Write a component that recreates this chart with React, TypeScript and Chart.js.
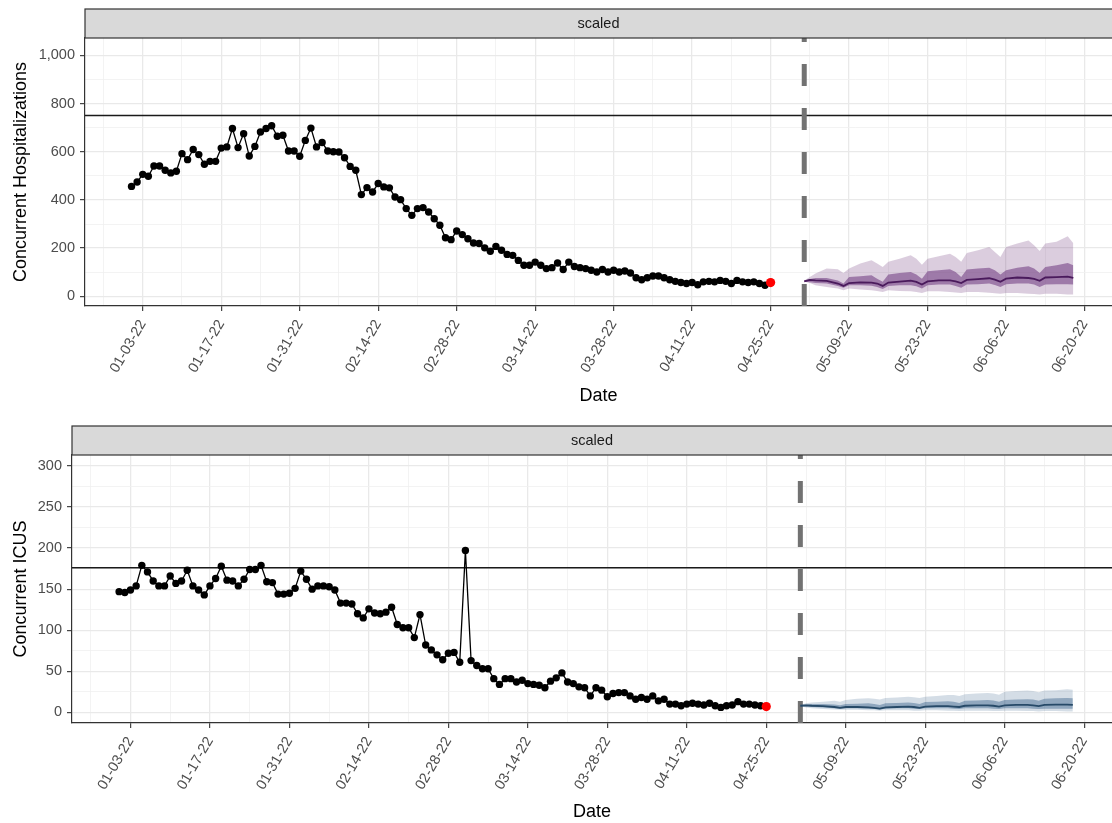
import React, { useEffect, useRef } from 'react';
import { Chart, registerables } from 'chart.js';

Chart.register(...registerables);

// ---------- data (days counted from 01-03-22) ----------
const FIRST_OBS_DAY = -2; // 01-01-22
const forecastStartDay = 118; // 05-01-22

const tickDays = [0, 14, 28, 42, 56, 70, 84, 98, 112, 126, 140, 154, 168];
const tickLabels = [
  '01-03-22', '01-17-22', '01-31-22', '02-14-22', '02-28-22', '03-14-22', '03-28-22',
  '04-11-22', '04-25-22', '05-09-22', '05-23-22', '06-06-22', '06-20-22',
];
const minorTickDays = [-7, 7, 21, 35, 49, 63, 77, 91, 105, 119, 133, 147, 161];

const hospObserved = [
  456, 474, 506, 498, 541, 541, 523, 512, 519, 592, 567, 609, 588, 548, 560, 560, 615, 620, 696, 617,
  675, 582, 622, 682, 696, 708, 664, 668, 603, 603, 581, 647, 698, 620, 638, 603, 600, 599, 575, 539,
  523, 422, 451, 433, 468, 454, 450, 412, 401, 364, 336, 364, 368, 350, 322, 295,
  243, 235, 271, 256, 239, 221, 219, 201, 187, 207, 191, 174, 170, 149, 129, 129, 142, 129, 115, 119,
  138, 111, 142, 124, 119, 115, 108, 101, 111, 101, 108, 101, 105, 97, 77, 69, 77, 84, 84, 77,
  69, 62, 57, 53, 57, 48, 60, 62, 60, 66, 62, 53, 66, 60, 57, 60, 53, 46, 57,
];

const icuObserved = [
  147, 146, 149, 154, 179, 171, 160, 154, 154, 166, 157, 160, 173, 154, 149, 143, 154, 163, 178, 161,
  160, 154, 162, 174, 174, 179, 159, 158, 144, 144, 145, 151, 172, 162, 150, 154, 154, 153, 149, 133,
  133, 132, 120, 115, 126, 121, 120, 122, 128, 107, 103, 103, 91, 119, 82, 76, 70,
  64, 72, 73, 61, 197, 63, 57, 53, 53, 41, 34, 41, 41, 37, 39, 35, 34, 33, 30, 38,
  42, 48, 37, 35, 31, 30, 20, 30, 27, 19, 23, 24, 24, 20, 16, 18, 16, 20, 14, 16,
  10, 10, 8, 10, 11, 10, 9, 11, 8, 6, 8, 9, 13, 10, 10, 9, 8, 7,
];

const forecastDays = [
  118, 119, 120, 122, 124, 125, 126, 128, 130, 131, 132, 133, 135, 137, 138, 139, 140, 142,
  144, 145, 146, 147, 149, 151, 152, 153, 154, 156, 158, 159, 160, 161, 163, 165, 166,
];

const hospMedian = [62, 68, 66, 64, 53, 43, 55, 58, 57, 53, 43, 57, 61, 65, 60, 49, 62, 66, 66, 62, 55, 68, 71, 75, 69, 60, 73, 78, 76, 72, 64, 78, 80, 82, 76];
const hospUpper50 = [66, 72, 76, 76, 66, 53, 80, 83, 87, 73, 60, 90, 97, 101, 90, 73, 104, 108, 112, 101, 80, 111, 115, 119, 108, 90, 108, 119, 125, 115, 97, 122, 129, 138, 129];
const hospLower50 = [60, 58, 55, 53, 43, 36, 46, 46, 44, 39, 30, 43, 46, 46, 42, 32, 46, 49, 49, 43, 36, 49, 50, 53, 47, 39, 50, 53, 53, 49, 39, 49, 50, 50, 49];
const hospUpper90 = [66, 80, 95, 115, 112, 97, 115, 136, 150, 136, 122, 143, 156, 170, 156, 131, 156, 166, 177, 163, 143, 180, 191, 205, 184, 163, 205, 219, 232, 212, 188, 219, 226, 249, 220];
const hospLower90 = [60, 55, 46, 39, 32, 25, 32, 28, 25, 22, 18, 25, 22, 21, 18, 14, 21, 21, 18, 16, 14, 18, 18, 15, 13, 11, 14, 14, 11, 10, 8, 11, 11, 8, 8];

const icuMedian = [8, 8.5, 8, 7.5, 6.5, 5.5, 6.5, 6.5, 6, 5.5, 4.5, 6, 6.5, 7, 6.5, 5.5, 7, 7.5, 7.5, 7, 6.5, 8, 8.5, 8.5, 8, 7, 8.5, 9, 9, 8.5, 7.5, 9, 9.5, 9.5, 9];
const icuUpper50 = [8.5, 9.5, 10, 10, 9.5, 8.5, 10, 10.5, 11, 10, 9, 11, 11.5, 12, 11.5, 10, 12.5, 13, 13.5, 13, 11.5, 14, 14.5, 15, 14.5, 13, 15, 15.5, 16, 15.5, 14, 16.5, 17, 17.5, 17];
const icuLower50 = [7.5, 7, 6.5, 6, 5, 4.5, 5, 5, 4.5, 4, 3.5, 4.5, 5, 5, 4.5, 4, 5, 5, 5, 4.5, 4, 5, 5, 5, 4.5, 4, 5, 5, 5, 4.5, 4, 4.5, 4.5, 4.5, 4.5];
const icuUpper90 = [9, 11, 12, 13, 14, 13, 15, 16.5, 17, 16.5, 15.5, 17.5, 18, 19, 18.5, 17.5, 19, 20, 21, 21, 20, 22, 23, 23.5, 23, 21.5, 25, 26, 26.5, 26, 24.5, 26.5, 27, 28, 27.5];
const icuLower90 = [7.5, 6, 5, 4, 3.5, 3, 3, 3, 2.5, 2.5, 2, 2.5, 2.5, 2.5, 2, 2, 2.5, 2.5, 2, 2, 1.5, 2, 2, 2, 1.5, 1.5, 2, 2, 1.5, 1.5, 1, 1.5, 1.5, 1, 1];

const hospCapacity = 750;
const icuCapacity = 176;

const hospYMajor = [0, 200, 400, 600, 800, 1000];
const hospYMinor = [100, 300, 500, 700, 900];
const icuYMajor = [0, 50, 100, 150, 200, 250, 300];
const icuYMinor = [25, 75, 125, 175, 225, 275];

const stripLabel = 'scaled';

// ---------- styling ----------
const FONT = "'Liberation Sans', Arial, Helvetica, sans-serif";
const X_MIN = -10.3;
const X_MAX = 172.9;

interface PanelCfg {
  observed: number[];
  median: number[];
  lo50: number[];
  hi50: number[];
  lo90: number[];
  hi90: number[];
  capacity: number;
  yMajor: number[];
  yMinor: number[];
  yMin: number;
  yMax: number;
  yTitle: string;
  rgb: string;
  medianColor: string;
  a90: number;
  a50: number;
  yAxisWidth: number;
  xAxisHeight: number;
  topPad: number;
  xTitlePad: number;
  height: number;
}

const hospPanel: PanelCfg = {
  observed: hospObserved,
  median: hospMedian,
  lo50: hospLower50,
  hi50: hospUpper50,
  lo90: hospLower90,
  hi90: hospUpper90,
  capacity: hospCapacity,
  yMajor: hospYMajor,
  yMinor: hospYMinor,
  yMin: -40.2,
  yMax: 1071.8,
  yTitle: 'Concurrent Hospitalizations',
  rgb: '110, 55, 125',
  medianColor: '#4a1a5c',
  a90: 0.25,
  a50: 0.55,
  yAxisWidth: 85,
  xAxisHeight: 105,
  topPad: 38,
  xTitlePad: 4,
  height: 411,
};

const icuPanel: PanelCfg = {
  observed: icuObserved,
  median: icuMedian,
  lo50: icuLower50,
  hi50: icuUpper50,
  lo90: icuLower90,
  hi90: icuUpper90,
  capacity: icuCapacity,
  yMajor: icuYMajor,
  yMinor: icuYMinor,
  yMin: -13,
  yMax: 313.4,
  yTitle: 'Concurrent ICUS',
  rgb: '60, 100, 140',
  medianColor: '#274a68',
  a90: 0.22,
  a50: 0.45,
  yAxisWidth: 72,
  xAxisHeight: 100,
  topPad: 44,
  xTitlePad: 0,
  height: 412,
};

function fmtThousands(v: number): string {
  return String(v).replace(/\B(?=(\d{3})+(?!\d))/g, ',');
}

function makeDecor(p: PanelCfg) {
  return {
    id: 'panelDecor',
    beforeDatasetsDraw(chart: any) {
      const { ctx, chartArea: a, scales } = chart;
      ctx.save();
      ctx.beginPath();
      ctx.rect(a.left, a.top, a.right - a.left, a.bottom - a.top);
      ctx.clip();
      const y = scales.y.getPixelForValue(p.capacity);
      ctx.strokeStyle = '#1a1a1a';
      ctx.lineWidth = 1.5;
      ctx.beginPath();
      ctx.moveTo(a.left, y);
      ctx.lineTo(a.right, y);
      ctx.stroke();
      const x = scales.x.getPixelForValue(forecastStartDay);
      ctx.setLineDash([22, 22]);
      ctx.strokeStyle = '#727272';
      ctx.lineWidth = 5;
      ctx.beginPath();
      ctx.moveTo(x, a.bottom);
      ctx.lineTo(x, a.top);
      ctx.stroke();
      ctx.restore();
    },
    afterDraw(chart: any) {
      const { ctx, chartArea: a } = chart;
      const h = 29;
      ctx.save();
      ctx.fillStyle = '#d9d9d9';
      ctx.fillRect(a.left, a.top - h, a.right - a.left + 2, h);
      ctx.strokeStyle = '#333333';
      ctx.lineWidth = 1.2;
      ctx.strokeRect(a.left, a.top - h, a.right - a.left + 4, h);
      ctx.fillStyle = '#1a1a1a';
      ctx.font = `14.5px ${FONT}`;
      ctx.textAlign = 'center';
      ctx.textBaseline = 'middle';
      ctx.fillText(stripLabel, (a.left + a.right) / 2, a.top - h / 2);
      ctx.restore();
    },
  };
}

function Panel({ cfg }: { cfg: PanelCfg }) {
  const ref = useRef<HTMLCanvasElement | null>(null);
  useEffect(() => {
    if (!ref.current) return;
    const p = cfg;
    const obs = p.observed.map((v, i) => ({ x: FIRST_OBS_DAY + i, y: v }));
    const last = obs[obs.length - 1];
    const fc = (arr: number[]) => forecastDays.map((d, i) => ({ x: d, y: arr[i] }));
    const band = { borderWidth: 0, borderColor: 'rgba(0,0,0,0)', pointRadius: 0, tension: 0 };
    const xTicks = [...minorTickDays, ...tickDays].sort((a, b) => a - b);
    const yTicks = [...p.yMajor, ...p.yMinor].sort((a, b) => a - b);
    const xMajor = (v: number) => tickDays.includes(v);
    const yIsMajor = (v: number) => p.yMajor.includes(v);
    const tickFont = { family: FONT, size: 14.5 };
    const titleFont = { family: FONT, size: 18 };

    const chart = new Chart(ref.current, {
      type: 'line',
      data: {
        datasets: [
          {
            label: 'last observed',
            data: [last],
            showLine: false,
            pointRadius: 4.6,
            pointBackgroundColor: '#ff0000',
            pointBorderWidth: 0,
            borderColor: '#ff0000',
          } as any,
          {
            label: 'observed',
            data: obs,
            borderColor: '#000000',
            borderWidth: 1.3,
            pointRadius: 3.7,
            pointBackgroundColor: '#000000',
            pointBorderWidth: 0,
            tension: 0,
          },
          {
            label: 'median',
            data: fc(p.median),
            borderColor: p.medianColor,
            borderWidth: 1.8,
            pointRadius: 0,
            tension: 0,
          },
          { label: 'upper 50', data: fc(p.hi50), fill: '+1', backgroundColor: `rgba(${p.rgb}, ${p.a50})`, ...band },
          { label: 'lower 50', data: fc(p.lo50), fill: false, ...band },
          { label: 'upper 90', data: fc(p.hi90), fill: '+1', backgroundColor: `rgba(${p.rgb}, ${p.a90})`, ...band },
          { label: 'lower 90', data: fc(p.lo90), fill: false, ...band },
        ],
      },
      options: {
        animation: false,
        responsive: false,
        devicePixelRatio: 1,
        layout: { padding: { top: p.topPad, left: 0, right: 0, bottom: 0 }, autoPadding: false },
        plugins: { legend: { display: false }, tooltip: { enabled: false } },
        scales: {
          x: {
            type: 'linear',
            min: X_MIN,
            max: X_MAX,
            afterBuildTicks: (s: any) => {
              s.ticks = xTicks.map((v) => ({ value: v }));
            },
            afterFit: (s: any) => {
              s.height = p.xAxisHeight;
            },
            ticks: {
              autoSkip: false,
              minRotation: 60,
              maxRotation: 60,
              padding: 6,
              color: '#4d4d4d',
              font: tickFont,
              callback: (v: any) => {
                const i = tickDays.indexOf(Number(v));
                return i >= 0 ? tickLabels[i] : '';
              },
            },
            grid: {
              color: (c: any) => (c.tick && xMajor(c.tick.value) ? '#e9e9e9' : '#f0f0f0'),
              lineWidth: (c: any) => (c.tick && xMajor(c.tick.value) ? 1.3 : 0.8),
              tickColor: (c: any) => (c.tick && xMajor(c.tick.value) ? '#333333' : 'rgba(0,0,0,0)'),
              tickLength: 5,
              tickWidth: 1.1,
            },
            border: { display: true, color: '#333333', width: 1.2 },
            title: {
              display: true,
              text: 'Date',
              color: '#000000',
              font: titleFont,
              padding: { top: 0, bottom: p.xTitlePad },
            },
          },
          y: {
            type: 'linear',
            min: p.yMin,
            max: p.yMax,
            afterBuildTicks: (s: any) => {
              s.ticks = yTicks.map((v) => ({ value: v }));
            },
            afterFit: (s: any) => {
              s.width = p.yAxisWidth;
            },
            ticks: {
              autoSkip: false,
              padding: 5,
              color: '#4d4d4d',
              font: tickFont,
              callback: (v: any) => (yIsMajor(Number(v)) ? fmtThousands(Number(v)) : ''),
            },
            grid: {
              color: (c: any) => (c.tick && yIsMajor(c.tick.value) ? '#e9e9e9' : '#f0f0f0'),
              lineWidth: (c: any) => (c.tick && yIsMajor(c.tick.value) ? 1.3 : 0.8),
              tickColor: (c: any) => (c.tick && yIsMajor(c.tick.value) ? '#333333' : 'rgba(0,0,0,0)'),
              tickLength: 5,
              tickWidth: 1.1,
            },
            border: { display: true, color: '#333333', width: 1.2 },
            title: {
              display: true,
              text: p.yTitle,
              color: '#000000',
              font: titleFont,
              padding: { top: 10, bottom: 0 },
            },
          },
        },
      } as any,
      plugins: [makeDecor(p)],
    });
    return () => chart.destroy();
  }, [cfg]);
  return <canvas ref={ref} width={1112} height={cfg.height} style={{ display: 'block', width: 1112, height: cfg.height }} />;
}

export default function App() {
  return (
    <div style={{ position: 'absolute', left: 0, top: 0, width: 1112, height: 823, background: '#ffffff', overflow: 'hidden' }}>
      <Panel cfg={hospPanel} />
      <Panel cfg={icuPanel} />
    </div>
  );
}
